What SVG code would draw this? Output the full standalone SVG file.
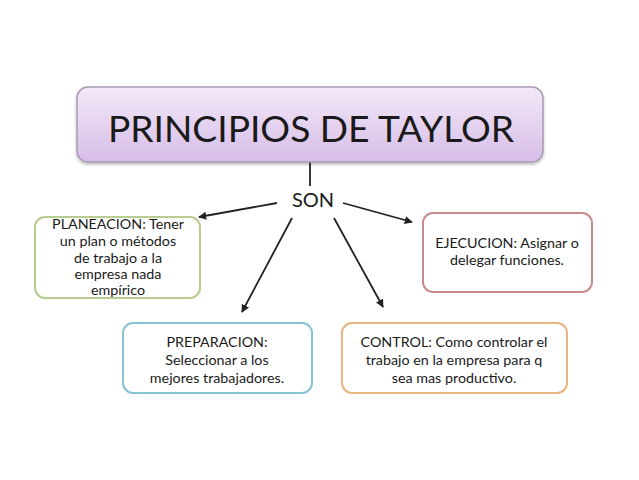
<svg xmlns="http://www.w3.org/2000/svg" width="639" height="480" viewBox="0 0 639 480">
<style>
.t{font-family:Lato,"Open Sans","Liberation Sans",sans-serif;fill:#1a1a1a;text-anchor:middle}
.s{font-size:14.3px}
.box{fill:#fff;stroke-width:2}
.c{stroke:#222;stroke-width:1.8;fill:none;marker-end:url(#ah)}
</style>
<defs>
<linearGradient id="lg" x1="0" y1="0" x2="0" y2="1">
<stop offset="0" stop-color="#f3e9f8"/>
<stop offset="1" stop-color="#d6bde8"/>
</linearGradient>
<marker id="ah" viewBox="0 0 10 10" refX="9" refY="5" markerWidth="4.5" markerHeight="4.5" orient="auto" markerUnits="strokeWidth">
<path d="M0,0 L10,5 L0,10 z" fill="#222"/>
</marker>
<filter id="sh" x="-5%" y="-10%" width="110%" height="130%">
<feDropShadow dx="0" dy="2" stdDeviation="1.5" flood-color="#000" flood-opacity="0.25"/>
</filter>
</defs>
<rect width="639" height="480" fill="#fff"/>
<g id="connectors">
<line x1="310" y1="162" x2="310" y2="186" stroke="#222" stroke-width="1.8"/>
<line class="c" x1="277" y1="203" x2="199" y2="217"/>
<line class="c" x1="343" y1="203" x2="412" y2="222"/>
<line class="c" x1="292" y1="218" x2="242" y2="312"/>
<line class="c" x1="334" y1="218" x2="383" y2="307"/>
</g>
<g id="title">
<rect x="77" y="87" width="466" height="75" rx="11" fill="url(#lg)" stroke="#a99bb3" stroke-width="1.5" filter="url(#sh)"/>
<text class="t" x="311" y="142" font-size="37.2">PRINCIPIOS DE TAYLOR</text>
</g>
<g id="son">
<text class="t" x="313" y="207" font-size="20">SON</text>
</g>
<g id="planeacion">
<rect class="box" x="35" y="217" width="165" height="81" rx="10" stroke="#b9cc8f"/>
<text class="t s"><tspan x="118" y="229">PLANEACION: Tener</tspan><tspan x="118" y="246">un plan o métodos</tspan><tspan x="118" y="263">de trabajo a la</tspan><tspan x="118" y="279">empresa nada</tspan><tspan x="118" y="295">empírico</tspan></text>
</g>
<g id="ejecucion">
<rect class="box" x="423" y="213" width="169" height="79" rx="10" stroke="#c98a8e"/>
<text class="t s"><tspan x="507" y="248">EJECUCION: Asignar o</tspan><tspan x="507" y="265">delegar funciones.</tspan></text>
</g>
<g id="preparacion">
<rect class="box" x="123" y="323" width="189" height="70" rx="10" stroke="#86c3d3"/>
<text class="t s"><tspan x="217" y="347">PREPARACION:</tspan><tspan x="217" y="365">Seleccionar a los</tspan><tspan x="217" y="383">mejores trabajadores.</tspan></text>
</g>
<g id="control">
<rect class="box" x="342" y="323" width="225" height="70" rx="10" stroke="#e9b47f"/>
<text class="t s"><tspan x="454" y="347">CONTROL: Como controlar el</tspan><tspan x="454" y="365">trabajo en la empresa para q</tspan><tspan x="454" y="383">sea mas productivo.</tspan></text>
</g>
</svg>
